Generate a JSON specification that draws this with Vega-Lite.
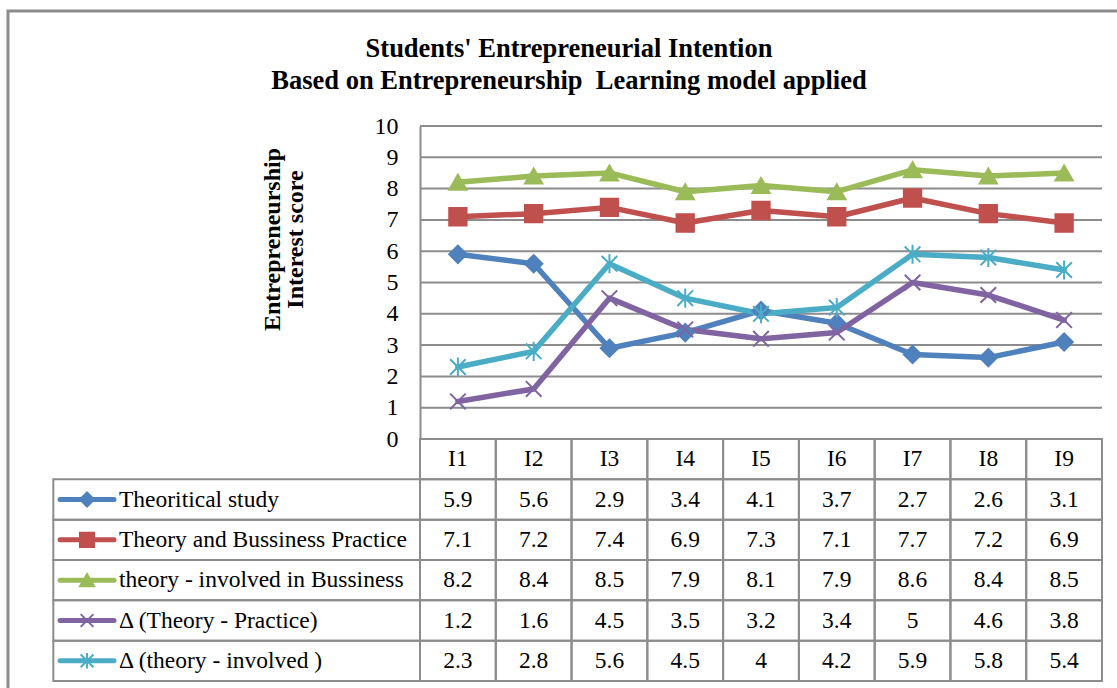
{
  "$schema": "https://vega.github.io/schema/vega-lite/v6.json",
  "width": 682,
  "height": 313,
  "autosize": "none",
  "padding": {"left": 420, "top": 126, "right": 15, "bottom": 249},
  "background": "white",
  "config": {
    "view": {"stroke": null},
    "font": "Liberation Serif",
    "axisY": {
      "labelOverlap": false,
      "domain": true,
      "domainColor": "#8c8c8c",
      "domainWidth": 2,
      "ticks": false,
      "grid": false,
      "labelFont": "Liberation Serif",
      "labelFontSize": 24,
      "labelColor": "black",
      "labelPadding": 22,
      "titleFont": "Liberation Serif",
      "titleFontSize": 24,
      "titleFontWeight": "bold",
      "titleColor": "black",
      "titleAngle": -90,
      "titleX": -148,
      "titleY": 113,
      "titleAlign": "center",
      "titleBaseline": "middle",
      "titleLineHeight": 23
    }
  },
  "title": {
    "text": ["Students' Entrepreneurial Intention", "Based on Entrepreneurship\u00a0 Learning model applied"],
    "font": "Liberation Serif",
    "fontSize": 26.5,
    "fontWeight": "bold",
    "color": "black",
    "anchor": "middle",
    "frame": "group",
    "dx": -192,
    "offset": -112,
    "lineHeight": 32,
    "baseline": "bottom"
  },
  "datasets": {
    "vals": [
      {"series": "Theoritical study", "cat": "I1", "value": 5.9},
      {"series": "Theoritical study", "cat": "I2", "value": 5.6},
      {"series": "Theoritical study", "cat": "I3", "value": 2.9},
      {"series": "Theoritical study", "cat": "I4", "value": 3.4},
      {"series": "Theoritical study", "cat": "I5", "value": 4.1},
      {"series": "Theoritical study", "cat": "I6", "value": 3.7},
      {"series": "Theoritical study", "cat": "I7", "value": 2.7},
      {"series": "Theoritical study", "cat": "I8", "value": 2.6},
      {"series": "Theoritical study", "cat": "I9", "value": 3.1},
      {"series": "Theory and Bussiness Practice", "cat": "I1", "value": 7.1},
      {"series": "Theory and Bussiness Practice", "cat": "I2", "value": 7.2},
      {"series": "Theory and Bussiness Practice", "cat": "I3", "value": 7.4},
      {"series": "Theory and Bussiness Practice", "cat": "I4", "value": 6.9},
      {"series": "Theory and Bussiness Practice", "cat": "I5", "value": 7.3},
      {"series": "Theory and Bussiness Practice", "cat": "I6", "value": 7.1},
      {"series": "Theory and Bussiness Practice", "cat": "I7", "value": 7.7},
      {"series": "Theory and Bussiness Practice", "cat": "I8", "value": 7.2},
      {"series": "Theory and Bussiness Practice", "cat": "I9", "value": 6.9},
      {"series": "theory - involved in Bussiness", "cat": "I1", "value": 8.2},
      {"series": "theory - involved in Bussiness", "cat": "I2", "value": 8.4},
      {"series": "theory - involved in Bussiness", "cat": "I3", "value": 8.5},
      {"series": "theory - involved in Bussiness", "cat": "I4", "value": 7.9},
      {"series": "theory - involved in Bussiness", "cat": "I5", "value": 8.1},
      {"series": "theory - involved in Bussiness", "cat": "I6", "value": 7.9},
      {"series": "theory - involved in Bussiness", "cat": "I7", "value": 8.6},
      {"series": "theory - involved in Bussiness", "cat": "I8", "value": 8.4},
      {"series": "theory - involved in Bussiness", "cat": "I9", "value": 8.5},
      {"series": "Δ (Theory - Practice)", "cat": "I1", "value": 1.2},
      {"series": "Δ (Theory - Practice)", "cat": "I2", "value": 1.6},
      {"series": "Δ (Theory - Practice)", "cat": "I3", "value": 4.5},
      {"series": "Δ (Theory - Practice)", "cat": "I4", "value": 3.5},
      {"series": "Δ (Theory - Practice)", "cat": "I5", "value": 3.2},
      {"series": "Δ (Theory - Practice)", "cat": "I6", "value": 3.4},
      {"series": "Δ (Theory - Practice)", "cat": "I7", "value": 5},
      {"series": "Δ (Theory - Practice)", "cat": "I8", "value": 4.6},
      {"series": "Δ (Theory - Practice)", "cat": "I9", "value": 3.8},
      {"series": "Δ (theory - involved )", "cat": "I1", "value": 2.3},
      {"series": "Δ (theory - involved )", "cat": "I2", "value": 2.8},
      {"series": "Δ (theory - involved )", "cat": "I3", "value": 5.6},
      {"series": "Δ (theory - involved )", "cat": "I4", "value": 4.5},
      {"series": "Δ (theory - involved )", "cat": "I5", "value": 4},
      {"series": "Δ (theory - involved )", "cat": "I6", "value": 4.2},
      {"series": "Δ (theory - involved )", "cat": "I7", "value": 5.9},
      {"series": "Δ (theory - involved )", "cat": "I8", "value": 5.8},
      {"series": "Δ (theory - involved )", "cat": "I9", "value": 5.4}
    ],
    "grid": [{"v": 0}, {"v": 1}, {"v": 2}, {"v": 3}, {"v": 4}, {"v": 5}, {"v": 6}, {"v": 7}, {"v": 8}, {"v": 9}, {"v": 10}],
    "cats": [{"cat": "I1"}, {"cat": "I2"}, {"cat": "I3"}, {"cat": "I4"}, {"cat": "I5"}, {"cat": "I6"}, {"cat": "I7"}, {"cat": "I8"}, {"cat": "I9"}],
    "series": [
      {"series": "Theoritical study"},
      {"series": "Theory and Bussiness Practice"},
      {"series": "theory - involved in Bussiness"},
      {"series": "Δ (Theory - Practice)"},
      {"series": "Δ (theory - involved )"}
    ],
    "one": [{"k": 1}]
  },
  "resolve": {"scale": {"x": "independent", "y": "independent"}},
  "layer": [
    {
      "data": {"name": "one"},
      "mark": {"type": "rect", "filled": false, "color": "#8c8c8c", "strokeWidth": 3},
      "encoding": {
        "x": {"datum": -5.437, "type": "quantitative", "scale": {"domain": [0, 9], "zero": false, "nice": false}, "axis": null},
        "x2": {"datum": 9.4},
        "y": {"datum": 13.674, "type": "quantitative", "scale": {"domain": [0, 10], "zero": false, "nice": false}, "axis": null},
        "y2": {"datum": -9}
      }
    },
    {
      "layer": [
        {
          "data": {"name": "grid"},
          "mark": {"type": "rule", "color": "#8c8c8c", "strokeWidth": 2},
          "encoding": {
            "y": {
              "field": "v",
              "type": "quantitative",
              "scale": {"domain": [0, 10], "nice": false},
              "axis": {"values": [0, 1, 2, 3, 4, 5, 6, 7, 8, 9, 10], "title": ["Entrepreneurship", "Interest score"]}
            }
          }
        },
        {
          "data": {"name": "vals"},
          "mark": {"type": "line", "strokeWidth": 5.5, "strokeCap": "round", "strokeJoin": "round"},
          "encoding": {
            "x": {"field": "cat", "type": "nominal", "scale": {"type": "point", "padding": 0.5, "domain": ["I1", "I2", "I3", "I4", "I5", "I6", "I7", "I8", "I9"]}, "axis": null},
            "y": {"field": "value", "type": "quantitative", "axis": {"values": [0, 1, 2, 3, 4, 5, 6, 7, 8, 9, 10], "title": ["Entrepreneurship", "Interest score"]}},
            "color": {
              "field": "series", "type": "nominal", "legend": null,
              "scale": {
                "domain": ["Theoritical study", "Theory and Bussiness Practice", "theory - involved in Bussiness", "Δ (Theory - Practice)", "Δ (theory - involved )"],
                "range": ["#4F81BD", "#C0504D", "#9BBB59", "#8064A2", "#4BACC6"]
              }
            }
          }
        },
        {
          "data": {"name": "vals"},
          "mark": {"type": "point", "filled": true, "opacity": 1, "strokeWidth": 2, "size": 300},
          "encoding": {
            "x": {"field": "cat", "type": "nominal", "axis": null},
            "y": {"field": "value", "type": "quantitative", "axis": {"values": [0, 1, 2, 3, 4, 5, 6, 7, 8, 9, 10], "title": ["Entrepreneurship", "Interest score"]}},
            "color": {"field": "series", "type": "nominal", "legend": null},
            "stroke": {
              "field": "series", "type": "nominal", "legend": null,
              "scale": {
                "domain": ["Theoritical study", "Theory and Bussiness Practice", "theory - involved in Bussiness", "Δ (Theory - Practice)", "Δ (theory - involved )"],
                "range": ["#4F81BD", "#C0504D", "#9BBB59", "#8064A2", "#4BACC6"]
              }
            },
            "shape": {
              "field": "series", "type": "nominal", "legend": null,
              "scale": {
                "domain": ["Theoritical study", "Theory and Bussiness Practice", "theory - involved in Bussiness", "Δ (Theory - Practice)", "Δ (theory - involved )"],
                "range": ["diamond", "square", "triangle-up", "M-0.9,-0.9L0.9,0.9M0.9,-0.9L-0.9,0.9", "M-0.9,-0.9L0.9,0.9M0.9,-0.9L-0.9,0.9M0,-1.1L0,1.1"]
              }
            }
          }
        }
      ]
    },
    {
      "resolve": {"scale": {"x": "independent"}},
      "layer": [
        {
          "data": {"name": "vals"},
          "mark": {"type": "rect", "filled": false, "color": "#8c8c8c", "strokeWidth": 2},
          "encoding": {
            "x": {"field": "cat", "type": "nominal", "scale": {"type": "band", "paddingInner": 0, "paddingOuter": 0, "domain": ["I1", "I2", "I3", "I4", "I5", "I6", "I7", "I8", "I9"]}, "axis": null},
            "y": {
              "field": "series", "type": "nominal", "axis": null,
              "scale": {
                "type": "band", "paddingInner": 0, "paddingOuter": 0, "range": [313, 555],
                "domain": ["_hdr", "Theoritical study", "Theory and Bussiness Practice", "theory - involved in Bussiness", "Δ (Theory - Practice)", "Δ (theory - involved )"]
              }
            }
          }
        },
        {
          "data": {"name": "cats"},
          "mark": {"type": "rect", "filled": false, "color": "#8c8c8c", "strokeWidth": 2},
          "encoding": {
            "x": {"field": "cat", "type": "nominal", "scale": {"type": "band", "paddingInner": 0, "paddingOuter": 0, "domain": ["I1", "I2", "I3", "I4", "I5", "I6", "I7", "I8", "I9"]}, "axis": null},
            "y": {"datum": "_hdr", "type": "nominal", "axis": null}
          }
        },
        {
          "data": {"name": "cats"},
          "mark": {"type": "text", "font": "Liberation Serif", "fontSize": 23.5, "color": "black", "baseline": "middle", "align": "center"},
          "encoding": {
            "x": {"field": "cat", "type": "nominal", "scale": {"type": "point", "padding": 0.5, "domain": ["I1", "I2", "I3", "I4", "I5", "I6", "I7", "I8", "I9"]}, "axis": null},
            "y": {"datum": "_hdr", "type": "nominal", "axis": null},
            "text": {"field": "cat", "type": "nominal"}
          }
        },
        {
          "data": {"name": "vals"},
          "mark": {"type": "text", "font": "Liberation Serif", "fontSize": 23.5, "color": "black", "baseline": "middle", "align": "center"},
          "encoding": {
            "x": {"field": "cat", "type": "nominal", "scale": {"type": "point", "padding": 0.5, "domain": ["I1", "I2", "I3", "I4", "I5", "I6", "I7", "I8", "I9"]}, "axis": null},
            "y": {"field": "series", "type": "nominal", "axis": null},
            "text": {"field": "value", "type": "nominal"}
          }
        },
        {
          "data": {"name": "series"},
          "mark": {"type": "rect", "filled": false, "color": "#8c8c8c", "strokeWidth": 2},
          "encoding": {
            "x": {"datum": -4.839, "type": "quantitative", "scale": {"domain": [0, 9], "zero": false, "nice": false}, "axis": null},
            "x2": {"datum": 0},
            "y": {"field": "series", "type": "nominal", "axis": null}
          }
        },
        {
          "data": {"name": "series"},
          "mark": {"type": "rule", "strokeWidth": 5, "strokeCap": "round"},
          "encoding": {
            "x": {"datum": -4.75, "type": "quantitative", "scale": {"domain": [0, 9], "zero": false, "nice": false}, "axis": null},
            "x2": {"datum": -4.038},
            "y": {"field": "series", "type": "nominal", "axis": null},
            "color": {"field": "series", "type": "nominal", "legend": null}
          }
        },
        {
          "data": {"name": "series"},
          "mark": {"type": "point", "filled": true, "opacity": 1, "strokeWidth": 2, "size": 200},
          "encoding": {
            "x": {"datum": -4.394, "type": "quantitative", "scale": {"domain": [0, 9], "zero": false, "nice": false}, "axis": null},
            "y": {"field": "series", "type": "nominal", "axis": null},
            "color": {"field": "series", "type": "nominal", "legend": null},
            "stroke": {"field": "series", "type": "nominal", "legend": null},
            "shape": {"field": "series", "type": "nominal", "legend": null}
          }
        },
        {
          "data": {"name": "series"},
          "mark": {"type": "text", "font": "Liberation Serif", "fontSize": 23.5, "color": "black", "baseline": "middle", "align": "left"},
          "encoding": {
            "x": {"datum": -3.972, "type": "quantitative", "scale": {"domain": [0, 9], "zero": false, "nice": false}, "axis": null},
            "y": {"field": "series", "type": "nominal", "axis": null},
            "text": {"field": "series", "type": "nominal"}
          }
        }
      ]
    }
  ]
}
